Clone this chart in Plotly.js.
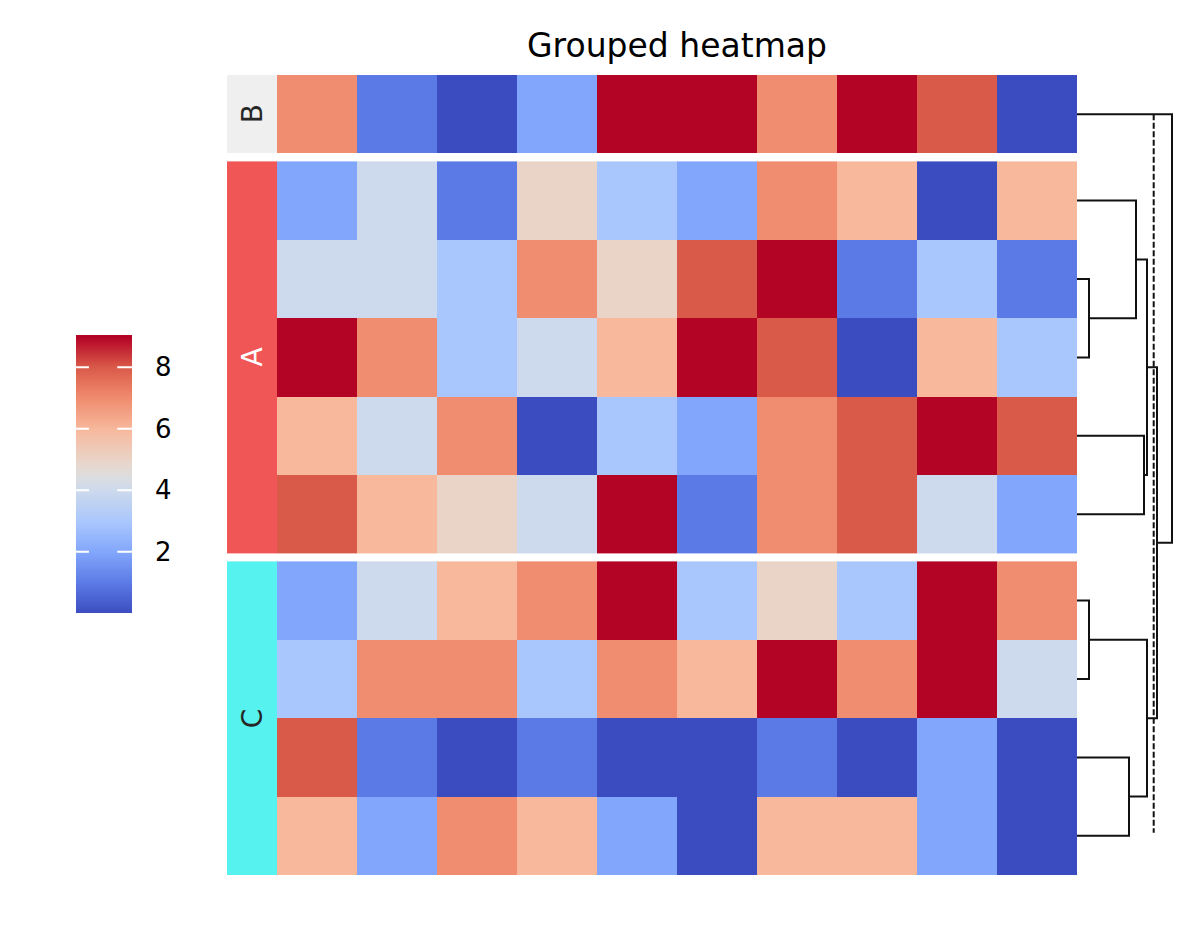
<!DOCTYPE html>
<html>
<head>
<meta charset="utf-8">
<script src="https://cdn.plot.ly/plotly-3.0.1.min.js"></script>
<style>
html,body{margin:0;padding:0;background:#ffffff;}
#chart{width:1196px;height:940px;}
</style>
</head>
<body>
<div id="chart"></div>
<script>
// ---------------- data ----------------
const columns = [0, 1, 2, 3, 4, 5, 6, 7, 8, 9];
const groupNames = ['B', 'A', 'C'];
const groupColors = ['#efefef', '#f15656', '#56f2ef'];
const groupTextColors = ['#262626', '#ffffff', '#262626'];

const rowsB = [
  [7, 1, 0, 2, 9, 9, 7, 9, 8, 0]
];
const rowsA = [
  [2, 4, 1, 5, 3, 2, 7, 6, 0, 6],
  [4, 4, 3, 7, 5, 8, 9, 1, 3, 1],
  [9, 7, 3, 4, 6, 9, 8, 0, 6, 3],
  [6, 4, 7, 0, 3, 2, 7, 8, 9, 8],
  [8, 6, 5, 4, 9, 1, 7, 8, 4, 2]
];
const rowsC = [
  [2, 4, 6, 7, 9, 3, 5, 3, 9, 7],
  [3, 7, 7, 3, 7, 6, 9, 7, 9, 4],
  [8, 1, 0, 1, 0, 0, 1, 0, 2, 0],
  [6, 2, 7, 6, 2, 0, 6, 6, 2, 0]
];
const groupData = [rowsB, rowsA, rowsC];

// dendrogram (links merge two children at a height)
const linkA = ['A1', 'A0', 'A3', 'L1', 'C0', 'C2', 'L4', 'L3', 'B0'];
const linkB = ['A2', 'L0', 'A4', 'L2', 'C1', 'C3', 'L5', 'L6', 'L7'];
const linkH = [0.12, 0.59, 0.67, 0.70, 0.12, 0.52, 0.70, 0.80, 0.95];
const cutHeight = 0.767;

// colour scale levels
const zMin = 0, zMax = 9;
const cbLevels = [0, 1, 2, 3, 4, 5, 6, 7, 8, 9];
const cbTicks = [2, 4, 6, 8];

// ---------------- styling ----------------
const coolwarm = [
  [0.0, '#3b4cc0'], [1/9, '#5b7ae5'], [2/9, '#82a6fb'], [3/9, '#aac7fd'],
  [4/9, '#cdd9ec'], [0.5, '#dddddd'], [5/9, '#ead4c8'], [6/9, '#f7b89c'],
  [7/9, '#f08c6f'], [8/9, '#da5a49'], [1.0, '#b40426']
];
const FONT = 'DejaVu Sans, Liberation Sans, sans-serif';
const W = 1196, H = 940;
const rowPx = 78.4, gapPx = 8;
const g = gapPx / rowPx;

// row positions
const leafPos = {};
const groupPositions = [];
let cursor = 0;
groupData.forEach((rows, gi) => {
  const pos = [];
  rows.forEach((r, ri) => {
    pos.push(cursor);
    leafPos[groupNames[gi] + ri] = cursor;
    cursor += 1;
  });
  groupPositions.push(pos);
  cursor += g;
});
const yTop = -0.5;
const yBottom = 9.5 + 2 * g;

const traces = [];
// heatmap blocks
groupData.forEach((rows, gi) => {
  traces.push({
    type: 'heatmap', x: columns, y: groupPositions[gi], z: rows,
    colorscale: coolwarm, zmin: zMin, zmax: zMax, showscale: false,
    hoverinfo: 'skip', xaxis: 'x', yaxis: 'y'
  });
  traces.push({
    type: 'heatmap', x: [0], y: groupPositions[gi], z: rows.map(() => [0]),
    colorscale: [[0, groupColors[gi]], [1, groupColors[gi]]], showscale: false,
    hoverinfo: 'skip', xaxis: 'x2', yaxis: 'y'
  });
});

// dendrogram
const nodePos = Object.assign({}, leafPos);
const nodeH = {};
Object.keys(leafPos).forEach(k => nodeH[k] = 0);
const dx = [], dy = [];
linkA.forEach((a, i) => {
  const b = linkB[i], h = linkH[i];
  const ya = nodePos[a], yb = nodePos[b];
  dx.push(nodeH[a], h, h, nodeH[b], null);
  dy.push(ya, ya, yb, yb, null);
  nodePos['L' + i] = (ya + yb) / 2;
  nodeH['L' + i] = h;
});
traces.push({
  type: 'scatter', mode: 'lines', x: dx, y: dy, xaxis: 'x3', yaxis: 'y',
  line: {color: '#111111', width: 2}, hoverinfo: 'skip', showlegend: false
});
const leafVals = Object.values(leafPos);
traces.push({
  type: 'scatter', mode: 'lines',
  x: [cutHeight, cutHeight],
  y: [Math.min(...leafVals), Math.max(...leafVals) - 0.04],
  xaxis: 'x3', yaxis: 'y',
  line: {color: '#111111', width: 2, dash: '6px,2.5px'},
  hoverinfo: 'skip', showlegend: false
});

// colour bar
traces.push({
  type: 'heatmap', x: [0, 1], y: cbLevels, z: cbLevels.map(v => [v, v]),
  colorscale: coolwarm, zmin: zMin, zmax: zMax, zsmooth: 'best',
  showscale: false, hoverinfo: 'skip', xaxis: 'x4', yaxis: 'y4'
});
const tx = [], ty = [];
cbTicks.forEach(t => {
  tx.push(0, 0.232, null, 0.737, 1, null);
  ty.push(t, t, null, t, t, null);
});
traces.push({
  type: 'scatter', mode: 'lines', x: tx, y: ty, xaxis: 'x4', yaxis: 'y4',
  line: {color: '#ffffff', width: 2}, hoverinfo: 'skip', showlegend: false
});

const hidden = {visible: false, showgrid: false, zeroline: false, fixedrange: true};
const annotations = groupNames.map((name, gi) => {
  const p = groupPositions[gi];
  return {
    xref: 'x2', yref: 'y', x: 0, y: (p[0] + p[p.length - 1]) / 2,
    text: name, showarrow: false, textangle: -90,
    font: {family: FONT, size: 28, color: groupTextColors[gi]},
    xanchor: 'center', yanchor: 'middle'
  };
});

const layout = {
  width: W, height: H,
  margin: {l: 0, r: 0, t: 0, b: 0},
  paper_bgcolor: '#ffffff', plot_bgcolor: 'rgba(0,0,0,0)',
  showlegend: false,
  title: {
    text: 'Grouped heatmap', xref: 'paper', yref: 'container',
    x: 677 / W, xanchor: 'center', y: 1 - 45 / H, yanchor: 'middle',
    font: {family: FONT, size: 33, color: '#000000'}
  },
  xaxis: Object.assign({}, hidden, {domain: [277 / W, 1077 / W], range: [-0.5, 9.5], anchor: 'y'}),
  yaxis: Object.assign({}, hidden, {domain: [65 / H, 865 / H], range: [yBottom, yTop], anchor: 'x'}),
  xaxis2: Object.assign({}, hidden, {domain: [227 / W, 277 / W], range: [-0.5, 0.5], anchor: 'y'}),
  xaxis3: Object.assign({}, hidden, {domain: [1077 / W, 1], range: [0, 1.19], anchor: 'y'}),
  xaxis4: Object.assign({}, hidden, {domain: [76 / W, 132 / W], range: [0, 1], anchor: 'y4'}),
  yaxis4: {
    domain: [(H - 613.3) / H, (H - 335) / H], range: [0, 9.05], anchor: 'x4',
    side: 'right', tickvals: cbTicks, ticktext: cbTicks.map(String),
    ticks: '', ticklabelstandoff: 22, showline: false, showgrid: false,
    zeroline: false, fixedrange: true,
    tickfont: {family: FONT, size: 26, color: '#000000'}
  },
  annotations: annotations
};

Plotly.newPlot('chart', traces, layout, {displayModeBar: false, staticPlot: true});
</script>
</body>
</html>
